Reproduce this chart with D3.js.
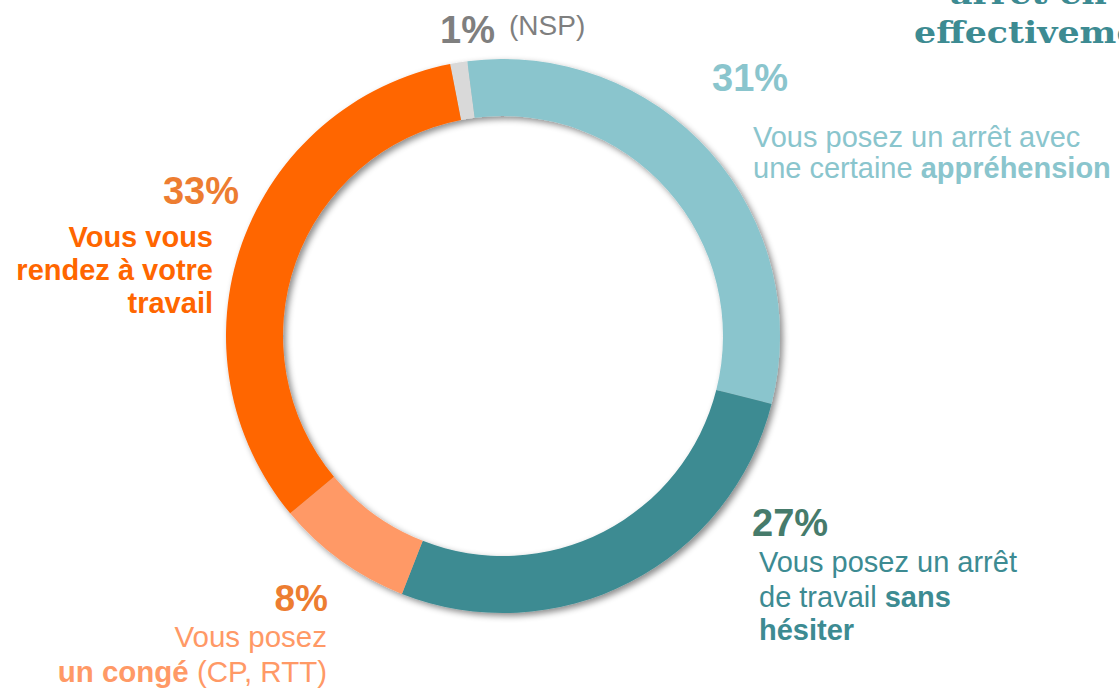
<!DOCTYPE html>
<html>
<head>
<meta charset="utf-8">
<script src="https://cdn.jsdelivr.net/npm/d3@7"></script>
<style>
  html, body { margin: 0; padding: 0; background: #ffffff; }
  svg { display: block; font-family: "Liberation Sans", Arial, sans-serif; }
</style>
</head>
<body>
<svg id="chart" width="1119" height="690"></svg>
<script>
// ---- Data ----
const categories = [
  "NSP",
  "Vous posez un arrêt avec une certaine appréhension",
  "Vous posez un arrêt de travail sans hésiter",
  "Vous posez un congé (CP, RTT)",
  "Vous vous rendez à votre travail"
];
const values = [1, 31, 27, 8, 33];
const sliceColors = ["#D9D9D9", "#8AC5CD", "#3D8B92", "#FF9966", "#FF6600"];
const percentLabels = ["1%", "31%", "27%", "8%", "33%"];
const titleLines = ["arrêt en p", "effectivement"];

// ---- Layout ----
const svg = d3.select("#chart");
const cx = 503, cy = 336;
const outerR = 277, innerR = 220;
const start = -11 * Math.PI / 180;

const defs = svg.append("defs");
const filt = defs.append("filter").attr("id", "shadow")
  .attr("x", "-20%").attr("y", "-20%").attr("width", "140%").attr("height", "140%");
filt.append("feDropShadow").attr("dx", 3).attr("dy", 3)
  .attr("stdDeviation", 3).attr("flood-color", "#000").attr("flood-opacity", 0.45);

const pie = d3.pie().sort(null).value(d => d)
  .startAngle(start).endAngle(start + 2 * Math.PI);
const arc = d3.arc().innerRadius(innerR).outerRadius(outerR);

const g = svg.append("g").attr("transform", `translate(${cx},${cy})`)
  .attr("filter", "url(#shadow)");
g.selectAll("path").data(pie(values)).join("path")
  .attr("d", arc)
  .attr("fill", (d, i) => sliceColors[i]);

// ---- Title (partially cut off at top right, as in the reference) ----
const title = svg.append("text")
  .attr("transform", "translate(914,0) scale(1.2,1)")
  .attr("font-family", "'DejaVu Serif', 'Liberation Serif', serif")
  .attr("font-weight", "bold").attr("font-size", 29).attr("fill", "#3D8B92");
title.append("tspan").attr("x", 30).attr("y", 4).text(titleLines[0]);
title.append("tspan").attr("x", 0).attr("y", 43).text(titleLines[1]);

// ---- Labels ----
function label(x, y, anchor, size, color, weight, txt) {
  return svg.append("text").attr("x", x).attr("y", y)
    .attr("text-anchor", anchor).attr("font-size", size)
    .attr("fill", color).attr("font-weight", weight).text(txt);
}
function multi(x, anchor, size, color, lines) {
  lines.forEach(l => {
    const t = svg.append("text").attr("x", x).attr("y", l.y)
      .attr("text-anchor", anchor).attr("font-size", size).attr("fill", color);
    l.parts.forEach(p => t.append("tspan")
      .attr("font-weight", p[1] ? "bold" : "normal").text(p[0]));
  });
}

// NSP
label(440, 43, "start", 38, "#7F7F7F", "bold", percentLabels[0]);
label(509, 35, "start", 28, "#7F7F7F", "normal", "(" + categories[0] + ")");

// 31%
label(712, 91, "start", 38, "#8AC5CD", "bold", percentLabels[1]);
multi(753, "start", 29, "#8AC5CD", [
  { y: 147, parts: [["Vous posez un arrêt avec", false]] },
  { y: 178, parts: [["une certaine ", false], ["appréhension", true]] }
]);

// 27%
label(752, 536, "start", 38, "#467B6B", "bold", percentLabels[2]);
multi(759, "start", 29, "#3D8B92", [
  { y: 572, parts: [["Vous posez un arrêt", false]] },
  { y: 607, parts: [["de travail ", false], ["sans", true]] },
  { y: 640, parts: [["hésiter", true]] }
]);

// 8%
label(328, 611, "end", 37, "#ED7D31", "bold", percentLabels[3]);
multi(327, "end", 29.5, "#FF9966", [
  { y: 647, parts: [["Vous posez", false]] },
  { y: 682, parts: [["un congé", true], [" (CP, RTT)", false]] }
]);

// 33%
label(239, 204, "end", 38, "#ED7D31", "bold", percentLabels[4]);
multi(213, "end", 29, "#FF6600", [
  { y: 247, parts: [["Vous vous", true]] },
  { y: 280, parts: [["rendez à votre", true]] },
  { y: 313, parts: [["travail", true]] }
]);
</script>
</body>
</html>
